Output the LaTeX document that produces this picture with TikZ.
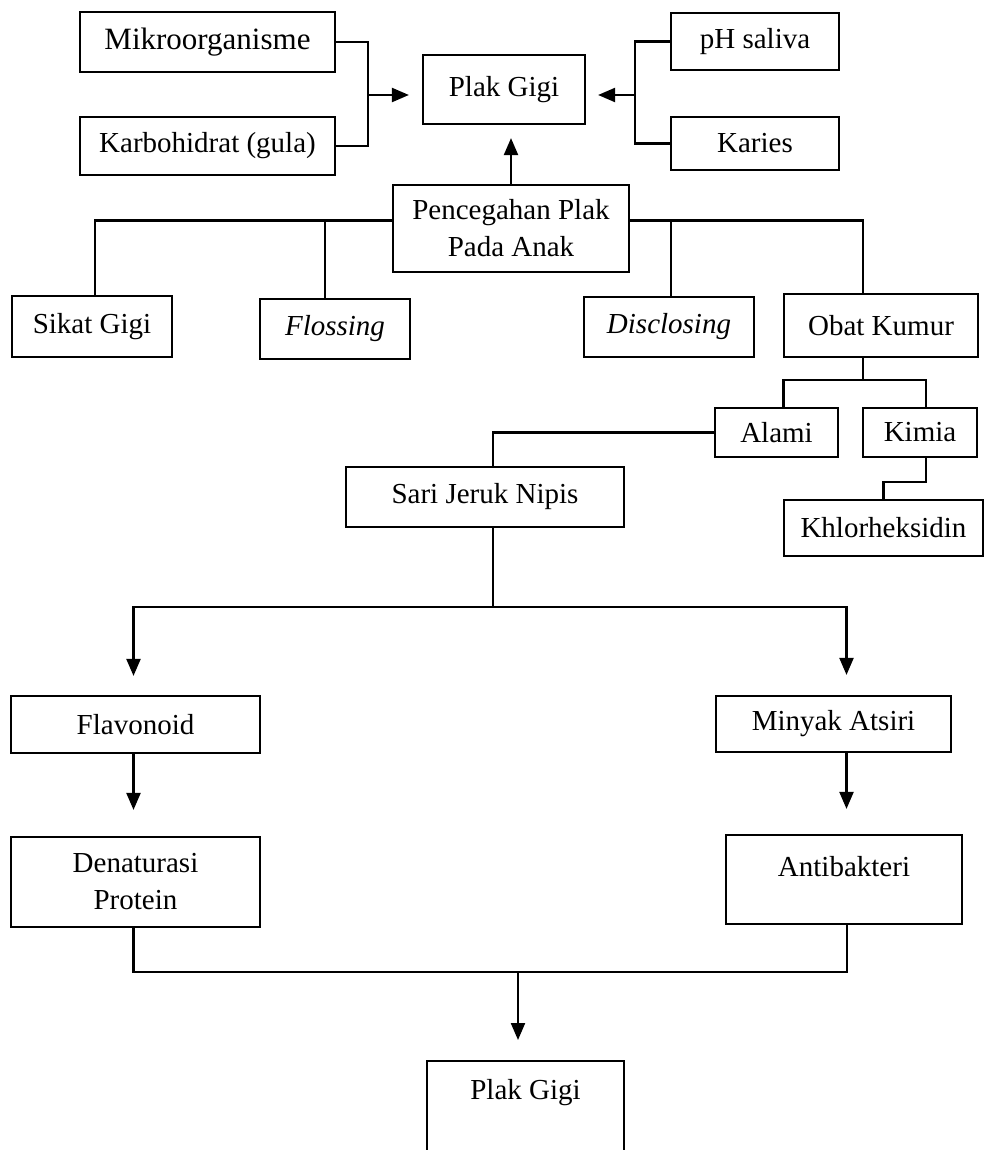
\documentclass[tikz,border=0pt]{standalone}
\usepackage{fontspec}
\setmainfont{Liberation Serif}
\usetikzlibrary{arrows.meta}
\tikzset{box/.style={draw, inner sep=0pt, align=center},
    flow/.style={-{Triangle[width=14pt,length=17pt]}}
}

\begin{document}
\begin{tikzpicture}[x=1pt, y=-1pt, line width=2.2pt, font=\fontsize{29}{37}\selectfont]
\useasboundingbox (0,0) rectangle (985,1150);

%0
\node[box, minimum width=255pt, minimum height=60pt, font=\fontsize{31}{37}\selectfont] (mikro) at (207.5,42) {Mikroorganisme};
\node[box, minimum width=255pt, minimum height=58pt] (karbo) at (207.5,146) {Karbohidrat (gula)};
\node[box, minimum width=162pt, minimum height=69pt] (plak) at (504,89.5) {Plak Gigi};
\node[box, minimum width=168pt, minimum height=57pt] (ph) at (755,41.5) {pH saliva};
\node[box, minimum width=168pt, minimum height=53pt] (karies) at (755,143.5) {Karies};
\coordinate (jl) at (368,95);
\coordinate (jr) at (635,95);
\draw (mikro.east) -| (jl) |- (karbo.east);
\draw[flow, shorten >=13pt] (jl) -- (jl -| plak.west);
\draw (ph.west) -| (jr) |- (karies.west);
\draw[flow, shorten >=12pt] (jr) -- (jr -| plak.east);

%1
\node[box, minimum width=236pt, minimum height=87pt] (cegah) at (511,228.5) {Pencegahan Plak\\Pada Anak};
\node[box, minimum width=160pt, minimum height=61pt] (sikat) at (92,326.5) {Sikat Gigi};
\node[box, minimum width=150pt, minimum height=60pt] (floss) at (335,329) {\textit{Flossing}};
\node[box, minimum width=170pt, minimum height=60pt] (disc) at (669,327) {\textit{Disclosing}};
\node[box, minimum width=194pt, minimum height=63pt] (obat) at (881,325.5) {Obat Kumur};
\draw[flow, shorten >=13pt] (cegah.north) -- (cegah.north |- plak.south);
\draw ([yshift=8pt]cegah.west) -| ([xshift=3pt]sikat.north);
\draw ([yshift=8pt]cegah.west) -| ([xshift=-10pt]floss.north);
\draw ([yshift=8pt]cegah.east) -| ([xshift=2pt]disc.north);
\draw ([yshift=8pt]cegah.east) -| ([xshift=-18pt]obat.north);

%2
\node[box, minimum width=123pt, minimum height=49pt] (alami) at (776.5,432.5) {Alami};
\node[box, minimum width=114pt, minimum height=49pt] (kimia) at (920,432.5) {Kimia};
\node[box, minimum width=199pt, minimum height=56pt] (khlor) at (883.5,528) {Khlorheksidin};
\node[box, minimum width=278pt, minimum height=60pt] (sari) at (485,497) {Sari Jeruk Nipis};
\draw ([xshift=-18pt]obat.south) -- ++(0,22) coordinate (jo);
\draw ([xshift=7pt]alami.north) |- (jo) -| ([xshift=6pt]kimia.north);
\draw ([xshift=6pt]kimia.south) -- ++(0,24) -| (khlor.north);
\draw (alami.west) -| ([xshift=8pt]sari.north);

%3
\node[box, minimum width=249pt, minimum height=57pt] (flav) at (135.5,724.5) {Flavonoid};
\node[box, minimum width=235pt, minimum height=56pt] (minyak) at (833.5,724) {Minyak Atsiri};
\node[box, minimum width=249pt, minimum height=90pt] (denat) at (135.5,882) {Denaturasi\\Protein};
\node[box, minimum width=236pt, text height=41pt, text depth=48pt] (anti) at (844,879.5) {Antibakteri};
\draw ([xshift=8pt]sari.south) -- ++(0,79) coordinate (js);
\draw[flow, shorten >=19pt] (js) -| ([xshift=-2pt]flav.north);
\draw[flow, shorten >=20pt] (js) -| ([xshift=13pt]minyak.north);
\draw[flow, shorten >=26pt] ([xshift=-2pt]flav.south) -- ([xshift=-2pt]denat.north);
\draw[flow, shorten >=25pt] ([xshift=13pt]minyak.south) -- ([xshift=13pt]minyak.south |- anti.north);

%4
\node[box, minimum width=197pt, text height=38pt, text depth=100pt, anchor=north] (plak2) at (525.5,1060) {Plak Gigi};
\draw ([xshift=-2pt]denat.south) -- ++(0,44) -| ([xshift=3pt]anti.south);
\coordinate (jb) at (518,971);
\draw[flow, shorten >=20pt] (jb) -- (jb |- plak2.north);

\end{tikzpicture}
\end{document}
